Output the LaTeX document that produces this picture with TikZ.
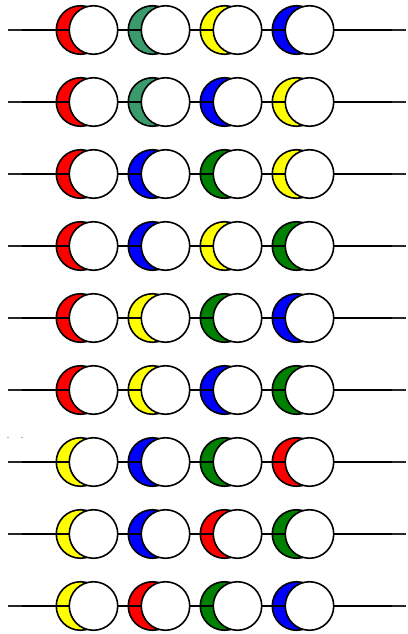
\documentclass[tikz,border=0pt]{standalone}
\usepackage{tikz}
\usetikzlibrary{positioning}
\definecolor{BeadRed}   {HTML}{FF0000}
\definecolor{BeadTeal}  {HTML}{3A9A6C}
\definecolor{BeadYellow}{HTML}{FFFF00}
\definecolor{BeadBlue}  {HTML}{0000FF}
\definecolor{BeadGreen} {HTML}{008000}
\tikzset{
  bead/.style={circle,draw=black,line width=1.6pt,fill=#1,
               minimum size=48.5pt,inner sep=0pt},
  shade/.style={bead=white},
  wire/.style={line width=1.8pt,color=black},
  wirethin/.style={line width=1.2pt,color=black!85},
}

\begin{document}
\begin{tikzpicture}[x=1pt,y=-1pt]
  \useasboundingbox (0,0) rectangle (407,634);

  \foreach \row/\ca/\cb/\cc/\cd in {
      1/BeadRed/BeadTeal/BeadYellow/BeadBlue,
      2/BeadRed/BeadTeal/BeadBlue/BeadYellow,
      3/BeadRed/BeadBlue/BeadGreen/BeadYellow,
      4/BeadRed/BeadBlue/BeadYellow/BeadGreen,
      5/BeadRed/BeadYellow/BeadGreen/BeadBlue,
      6/BeadRed/BeadYellow/BeadBlue/BeadGreen,
      7/BeadYellow/BeadBlue/BeadGreen/BeadRed,
      8/BeadYellow/BeadBlue/BeadRed/BeadGreen,
      9/BeadYellow/BeadRed/BeadGreen/BeadBlue}{
    \pgfmathsetmacro{\y}{30+72*(\row-1)}
    % coloured beads, then the wire, then the white covers
    \foreach \col [count=\k] in {\ca,\cb,\cc,\cd}
      \node[bead=\col] (c\row-\k) at ({80.5+72*(\k-1)},\y) {};
    \coordinate (wl\row) at (8,\y);
    \coordinate (wr\row) at (406,\y);
    \coordinate (tl\row) at (22,\y);
    \coordinate (tr\row) at (392,\y);
    \draw[wirethin] (wl\row) -- (wr\row);
    \draw[wire] (tl\row) -- (tr\row);
    \foreach \k in {1,...,4}
      \node[shade] (w\row-\k) at ({93.5+72*(\k-1)},\y) {};
  }

  % two stray marks
  \fill[black!60] (8,437.5) circle (0.6);
  \fill[black!60] (22,437.5) circle (0.6);

\end{tikzpicture}
\end{document}
